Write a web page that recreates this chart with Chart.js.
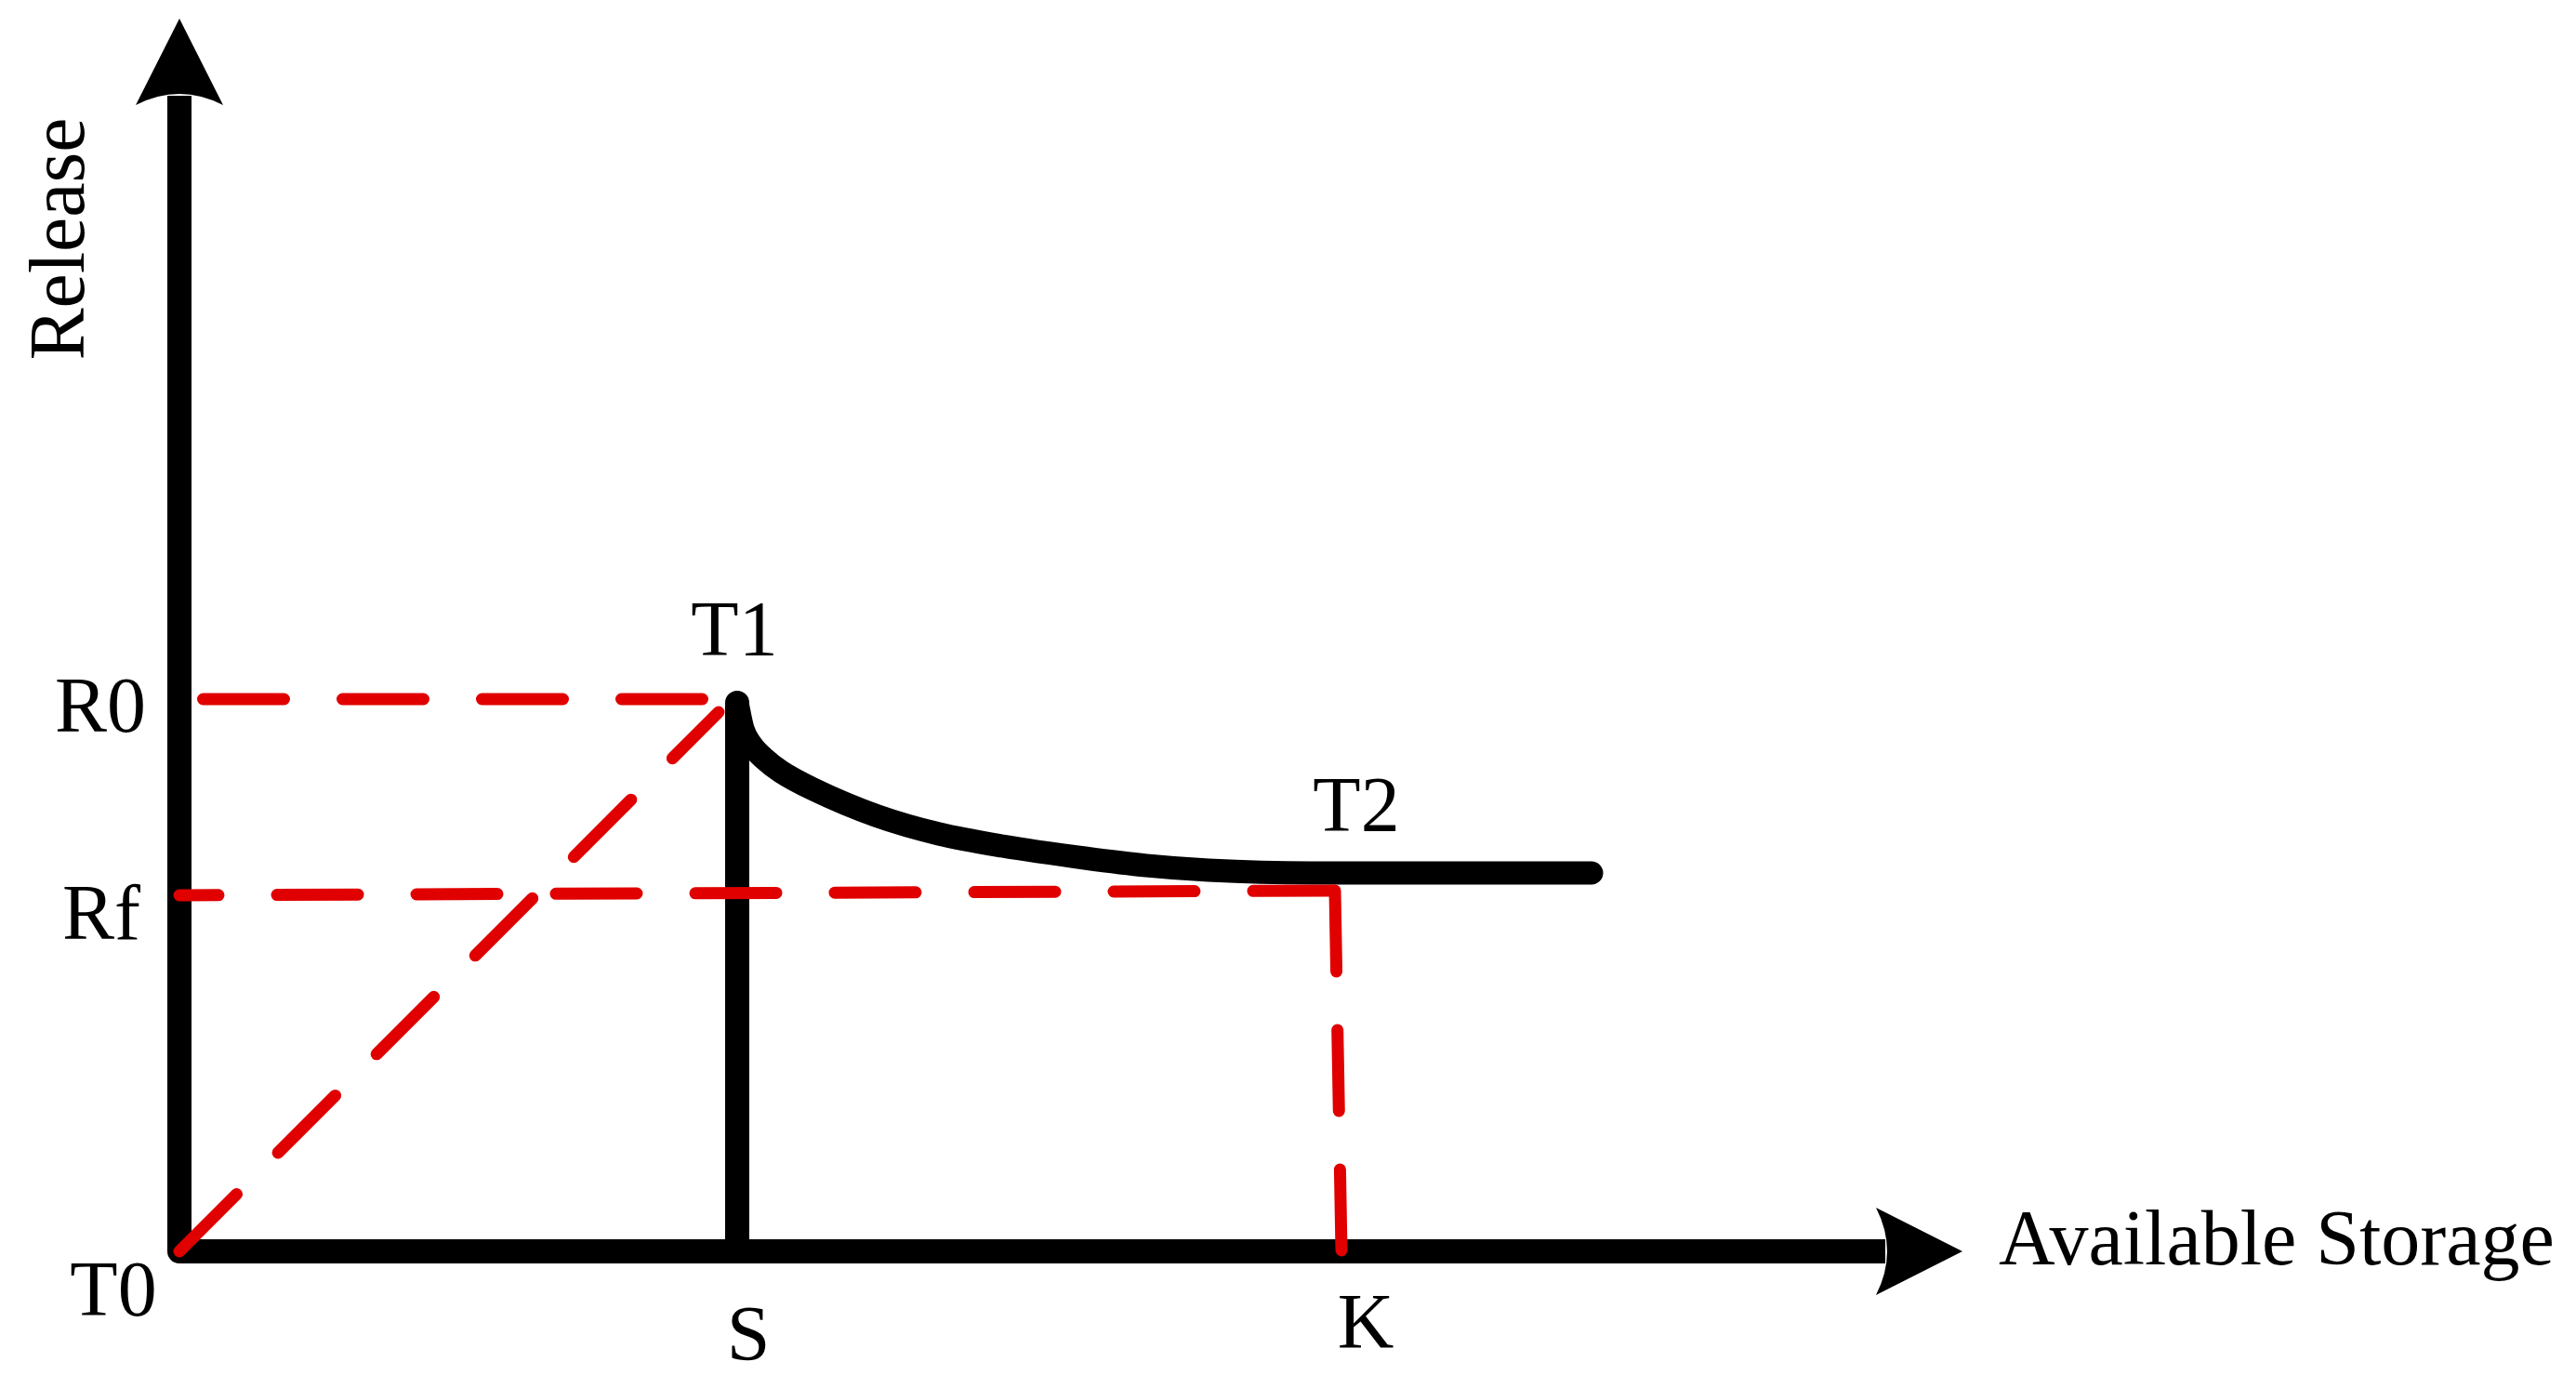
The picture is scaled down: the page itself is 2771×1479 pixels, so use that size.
<!DOCTYPE html>
<html>
<head>
<meta charset="utf-8">
<script src="https://cdn.jsdelivr.net/npm/chart.js@4/dist/chart.umd.min.js"></script>
<style>
  html, body { margin: 0; padding: 0; background: #fff; }
  #wrap { width: 2771px; height: 1479px; position: relative; }
</style>
</head>
<body>
<div id="wrap"><canvas id="chart"></canvas></div>
<script>
// Release rule sketch: storage on x, release on y (arbitrary units)
const storageLabels = ['T0', 'S', 'K'];
const storageTicks = [0, 6.0, 12.46];
const releaseLabels = ['R0', 'Rf'];
const releaseTicks = [5.94, 3.85];

const storageMax = 19.18;
const releaseMax = 13.26;

// black rule: T1 decays to T2, then stays flat
const ruleStorage = [6.00, 6.06, 6.15, 6.29, 6.47, 6.82, 7.50, 8.17, 8.85, 9.74, 10.40, 11.07, 12.17, 15.19];
const ruleRelease = [5.90, 5.62, 5.45, 5.30, 5.16, 4.97, 4.685, 4.49, 4.36, 4.23, 4.15, 4.10, 4.07, 4.07];

// black drop at S
const sDropStorage = [6.00, 6.00];
const sDropRelease = [0, 5.90];

// red guide lines
const r0GuideStorage = [0, 6.00];
const r0GuideRelease = [5.94, 5.94];
const diagStorage = [0, 5.80];
const diagRelease = [0, 5.80];
const rfGuideStorage = [0, 12.43];
const rfGuideRelease = [3.83, 3.88];
const kDropStorage = [12.43, 12.50];
const kDropRelease = [3.88, 0];

const RED = '#e00000';
const FONT = '84px "Liberation Serif", "Times New Roman", serif';

function pts(xs, ys) {
  return xs.map((x, i) => ({ x, y: ys[i] }));
}

function redDash(data, offset) {
  return {
    data,
    borderColor: RED,
    borderWidth: 13,
    borderDash: [87, 63],
    borderDashOffset: offset,
    borderCapStyle: 'round',
    pointRadius: 0,
    tension: 0,
    clip: false,
  };
}

function arrowHead(ctx, tx, ty, dx, dy) {
  // d points from the tip back along the shaft
  const len = 93, half = 47;
  const nx = -dy, ny = dx;
  ctx.beginPath();
  ctx.moveTo(tx, ty);
  ctx.lineTo(tx + dx * len + nx * half, ty + dy * len + ny * half);
  ctx.quadraticCurveTo(tx + dx * 69, ty + dy * 69, tx + dx * len - nx * half, ty + dy * len - ny * half);
  ctx.closePath();
  ctx.fill();
}

const axesPlugin = {
  id: 'arrowAxes',
  beforeDatasetsDraw(chart) {
    const { ctx, scales: { x, y } } = chart;
    const x0 = x.getPixelForValue(0), y0 = y.getPixelForValue(0);
    const xTip = x.getPixelForValue(storageMax), yTip = y.getPixelForValue(releaseMax);
    ctx.save();
    ctx.strokeStyle = '#000';
    ctx.fillStyle = '#000';
    ctx.lineWidth = 26;
    ctx.lineJoin = 'round';
    ctx.beginPath();
    ctx.moveTo(x0, yTip + 83);
    ctx.lineTo(x0, y0);
    ctx.lineTo(xTip - 83, y0);
    ctx.stroke();
    arrowHead(ctx, x0, yTip, 0, 1);
    arrowHead(ctx, xTip, y0, -1, 0);
    ctx.restore();
  },
  afterDraw(chart) {
    const { ctx, scales: { x, y } } = chart;
    const x0 = x.getPixelForValue(0), y0 = y.getPixelForValue(0);
    const xTip = x.getPixelForValue(storageMax), yTip = y.getPixelForValue(releaseMax);
    ctx.save();
    ctx.fillStyle = '#000';
    ctx.font = FONT;
    ctx.textBaseline = 'alphabetic';

    // storage marks under the x axis
    const xOff = [-71, 12, 30];
    const yOff = [69, 117, 104];
    ctx.textAlign = 'center';
    storageLabels.forEach((lab, i) => {
      ctx.fillText(lab, x.getPixelForValue(storageTicks[i]) + xOff[i], y0 + yOff[i]);
    });

    // release marks left of the y axis
    const rxOff = [36, 42];
    const ryOff = [35, 49];
    ctx.textAlign = 'right';
    releaseLabels.forEach((lab, i) => {
      ctx.fillText(lab, x0 - rxOff[i], y.getPixelForValue(releaseTicks[i]) + ryOff[i]);
    });

    // T1 / T2 on the rule curve
    ctx.textAlign = 'center';
    ctx.fillText('T1', x.getPixelForValue(ruleStorage[0]) - 3, y.getPixelForValue(ruleRelease[0]) - 51);
    ctx.fillText('T2', x.getPixelForValue(storageTicks[2]) + 20, y.getPixelForValue(ruleRelease[ruleRelease.length - 1]) - 45);

    // axis titles
    ctx.textAlign = 'left';
    ctx.fillText('Available Storage', xTip + 39, y0 + 14);
    ctx.translate(x0 - 125, yTip + 237);
    ctx.rotate(-Math.PI / 2);
    ctx.textAlign = 'center';
    ctx.textBaseline = 'middle';
    ctx.fillText('Release', 0, 0);
    ctx.restore();
  },
};

new Chart(document.getElementById('chart'), {
  type: 'line',
  data: {
    datasets: [
      redDash(pts(rfGuideStorage, rfGuideRelease), 45),
      redDash(pts(kDropStorage, kDropRelease), 0),
      redDash(pts(r0GuideStorage, r0GuideRelease), 124.5),
      redDash(pts(diagStorage, diagRelease), 0),
      {
        data: pts(ruleStorage, ruleRelease),
        borderColor: '#000',
        borderWidth: 25,
        borderCapStyle: 'round',
        borderJoinStyle: 'round',
        cubicInterpolationMode: 'monotone',
        pointRadius: 0,
        clip: false,
      },
      {
        data: pts(sDropStorage, sDropRelease),
        borderColor: '#000',
        borderWidth: 26,
        borderCapStyle: 'round',
        pointRadius: 0,
        tension: 0,
        clip: false,
      },
    ],
  },
  options: {
    responsive: true,
    maintainAspectRatio: false,
    devicePixelRatio: 1,
    animation: false,
    layout: { padding: { left: 193, right: 660, top: 20, bottom: 133 } },
    scales: {
      x: { type: 'linear', min: 0, max: storageMax, display: false },
      y: { type: 'linear', min: 0, max: releaseMax, display: false },
    },
    plugins: {
      legend: { display: false },
      tooltip: { enabled: false },
    },
  },
  plugins: [axesPlugin],
});
</script>
</body>
</html>
